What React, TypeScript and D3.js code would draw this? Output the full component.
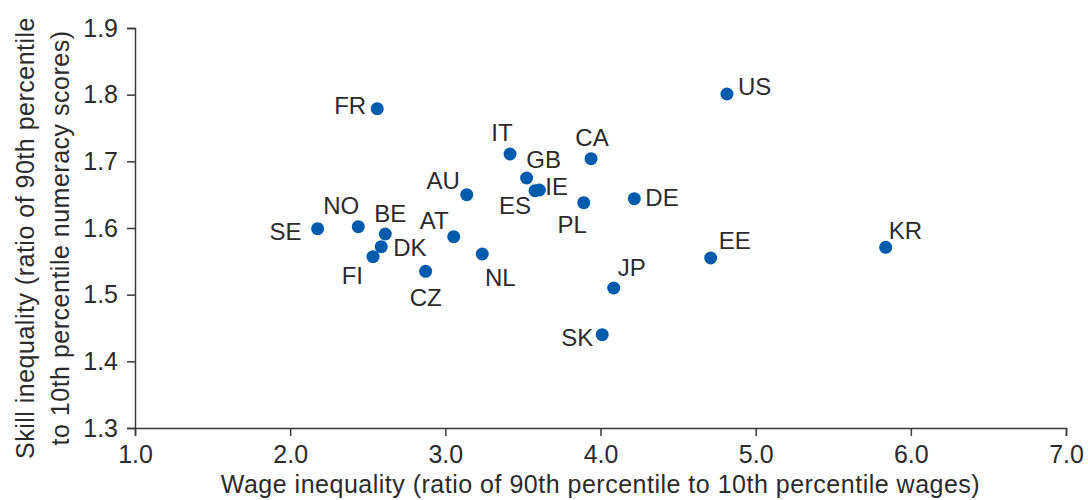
import React, { useEffect, useRef } from 'react';
import * as d3 from 'd3';

// Countries with wage inequality (x) and skill inequality (y)
const countries = ['US', 'FR', 'IT', 'CA', 'GB', 'ES', 'IE', 'AU', 'PL', 'DE', 'SE', 'NO', 'BE', 'DK', 'FI', 'AT', 'NL', 'CZ', 'JP', 'SK', 'EE', 'KR'];
const wageRatio = [4.815, 2.561, 3.417, 3.939, 3.524, 3.578, 3.606, 3.138, 3.892, 4.218, 2.177, 2.439, 2.613, 2.587, 2.534, 3.054, 3.238, 2.873, 4.085, 4.011, 4.71, 5.838];
const skillRatio = [1.801, 1.779, 1.711, 1.704, 1.675, 1.656, 1.657, 1.65, 1.638, 1.644, 1.599, 1.602, 1.591, 1.572, 1.557, 1.587, 1.561, 1.535, 1.51, 1.44, 1.555, 1.571];

const xTicks = [1, 2, 3, 4, 5, 6, 7];
const yTicks = [1.3, 1.4, 1.5, 1.6, 1.7, 1.8, 1.9];

// label placement relative to the dot: [dx, dy, anchor]
const labelPos: Record<string, [number, number, string]> = {
  US: [11, -7, 'start'],
  FR: [-11, -3, 'end'],
  IT: [-8, -21, 'middle'],
  CA: [1, -21, 'middle'],
  GB: [17, -18, 'middle'],
  ES: [-4, 15, 'end'],
  IE: [6, -3, 'start'],
  AU: [-7, -14, 'end'],
  PL: [3, 22, 'end'],
  DE: [11, -1, 'start'],
  SE: [-16, 3, 'end'],
  NO: [1, -21, 'end'],
  BE: [5, -20, 'middle'],
  DK: [12, 1, 'start'],
  FI: [-10, 19, 'end'],
  AT: [-5, -16, 'end'],
  NL: [18, 24, 'middle'],
  CZ: [0, 26, 'middle'],
  JP: [4, -20, 'start'],
  SK: [-9, 3, 'end'],
  EE: [8, -17, 'start'],
  KR: [3, -17, 'start'],
};

export default function App() {
  const svgRef = useRef<SVGSVGElement>(null);

  useEffect(() => {
    if (!svgRef.current) return;
    const width = 1088;
    const height = 500;
    const margin = { top: 28, right: 22, bottom: 72, left: 135 };
    const innerWidth = width - margin.left - margin.right;
    const innerHeight = height - margin.top - margin.bottom;
    const font = '"Liberation Sans", Arial, sans-serif';
    const textColor = '#2b2b2b';
    const axisColor = '#3a3a3a';

    const svg = d3.select(svgRef.current);
    svg.selectAll('*').remove();

    const g = svg.append('g').attr('transform', `translate(${margin.left},${margin.top})`);

    const xScale = d3.scaleLinear().domain([1, 7]).range([0, innerWidth]);
    const yScale = d3.scaleLinear().domain([1.3, 1.9]).range([innerHeight, 0]);

    const xAxis = g.append('g')
      .attr('transform', `translate(0,${innerHeight})`)
      .call(d3.axisBottom(xScale).tickValues(xTicks).tickFormat(d3.format('.1f')).tickSize(8).tickPadding(9));
    const yAxis = g.append('g')
      .call(d3.axisLeft(yScale).tickValues(yTicks).tickFormat(d3.format('.1f')).tickSize(8).tickPadding(9));

    [xAxis, yAxis].forEach(ax => {
      ax.select('.domain').attr('stroke', axisColor).attr('stroke-width', 1.5);
      ax.selectAll('.tick line').attr('stroke', axisColor).attr('stroke-width', 1.5);
      ax.selectAll('.tick text')
        .style('font-family', font)
        .style('font-size', '25px')
        .style('fill', textColor);
    });

    // Axis titles
    g.append('text')
      .attr('text-anchor', 'middle')
      .attr('x', innerWidth / 2)
      .attr('y', innerHeight + 65)
      .style('font-family', font)
      .style('font-size', '25px')
      .style('letter-spacing', '0.5px')
      .style('fill', textColor)
      .text('Wage inequality (ratio of 90th percentile to 10th percentile wages)');

    const yTitle = g.append('text')
      .attr('text-anchor', 'middle')
      .attr('transform', `translate(${-101},${innerHeight / 2 + 10}) rotate(-90)`)
      .style('font-family', font)
      .style('font-size', '25px')
      .style('letter-spacing', '0.5px')
      .style('fill', textColor);
    yTitle.append('tspan').attr('x', 0).attr('y', 0).text('Skill inequality (ratio of 90th percentile');
    yTitle.append('tspan').attr('x', 0).attr('y', 35).text('to 10th percentile numeracy scores)');

    const idx = d3.range(countries.length);

    g.selectAll('.dot')
      .data(idx)
      .enter()
      .append('circle')
      .attr('class', 'dot')
      .attr('cx', i => xScale(wageRatio[i]))
      .attr('cy', i => yScale(skillRatio[i]))
      .attr('r', 6.5)
      .attr('fill', '#005bac');

    g.selectAll('.lbl')
      .data(idx)
      .enter()
      .append('text')
      .attr('class', 'lbl')
      .attr('x', i => xScale(wageRatio[i]) + labelPos[countries[i]][0])
      .attr('y', i => yScale(skillRatio[i]) + labelPos[countries[i]][1])
      .attr('dy', '0.35em')
      .attr('text-anchor', i => labelPos[countries[i]][2])
      .style('font-family', font)
      .style('font-size', '24px')
      .style('fill', textColor)
      .text(i => countries[i]);
  }, []);

  return (
    <svg
      ref={svgRef}
      width={1088}
      height={500}
      style={{ position: 'absolute', left: 0, top: 0, background: '#fff' }}
    />
  );
}
